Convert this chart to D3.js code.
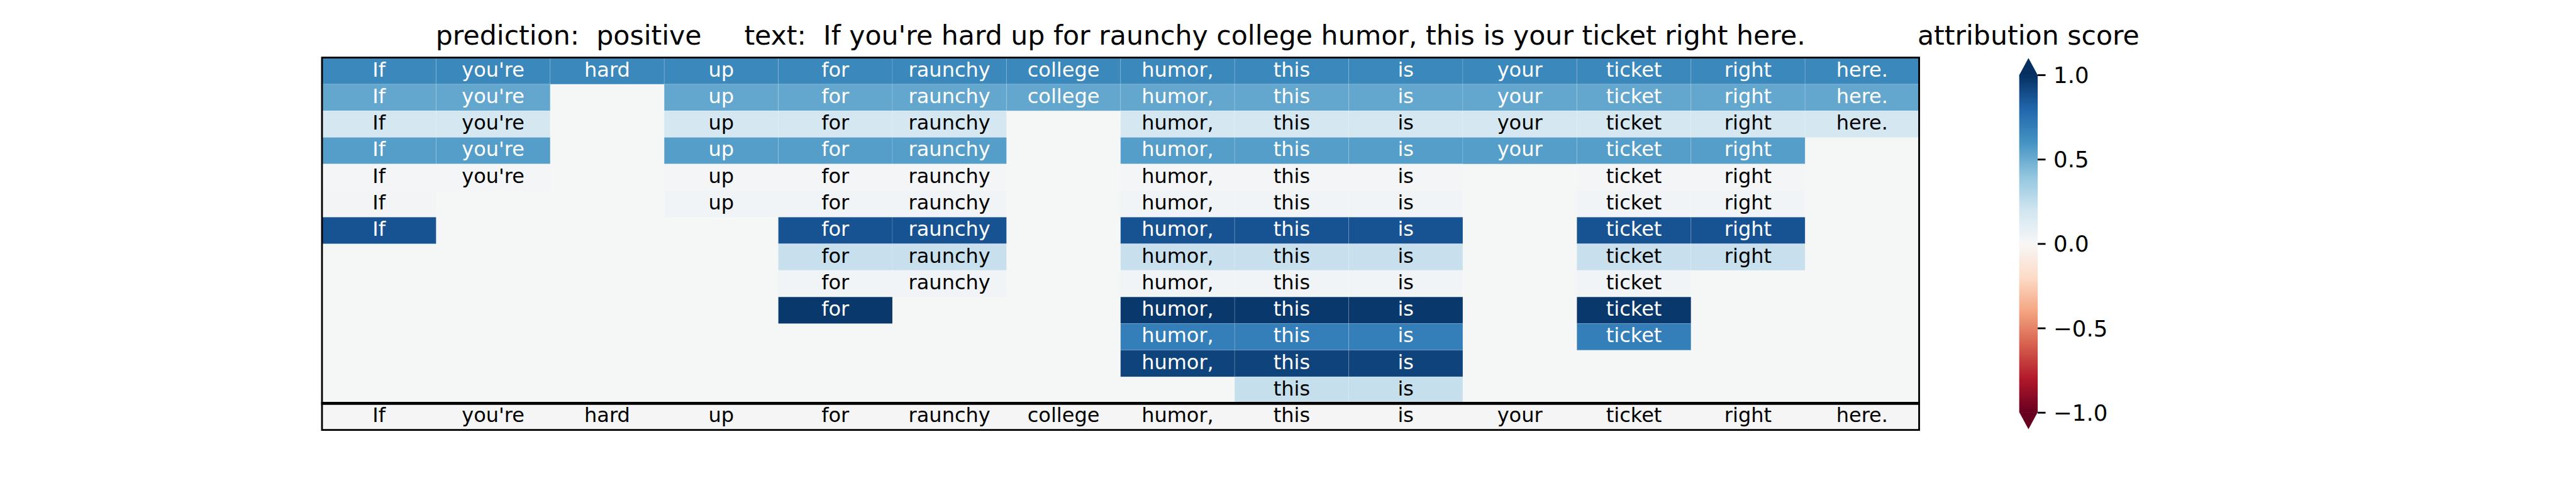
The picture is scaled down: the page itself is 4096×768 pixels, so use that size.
<!DOCTYPE html>
<html>
<head>
<meta charset="utf-8">
<script src="https://cdn.jsdelivr.net/npm/d3@7"></script>
<style>
  html, body { margin: 0; padding: 0; background: #ffffff; }
  svg { display: block; }
  text { font-family: "DejaVu Sans", sans-serif; }
</style>
</head>
<body>
<script>
// ---------------- data ----------------
const tokens = ["If", "you're", "hard", "up", "for", "raunchy", "college", "humor,", "this", "is", "your", "ticket", "right", "here."];
const N = null;
// one row per explanation level; null = token not part of that row
const scores = [
  [0.65, 0.65, 0.65, 0.65, 0.65, 0.65, 0.65, 0.65, 0.65, 0.65, 0.65, 0.65, 0.65, 0.65],
  [0.52, 0.52, N,    0.52, 0.52, 0.52, 0.52, 0.52, 0.52, 0.52, 0.52, 0.52, 0.52, 0.52],
  [0.18, 0.18, N,    0.18, 0.18, 0.18, N,    0.18, 0.18, 0.18, 0.18, 0.18, 0.18, 0.18],
  [0.555,0.555,N,    0.555,0.555,0.555,N,    0.555,0.555,0.555,0.555,0.555,0.555,N   ],
  [0.02, 0.02, N,    0.02, 0.02, 0.02, N,    0.02, 0.02, 0.02, N,    0.02, 0.02, N   ],
  [0.028,N,    N,    0.035,0.03, 0.03, N,    0.03, 0.03, 0.03, N,    0.03, 0.03, N   ],
  [0.87, N,    N,    N,    0.87, 0.87, N,    0.87, 0.87, 0.87, N,    0.87, 0.87, N   ],
  [N,    N,    N,    N,    0.23, 0.23, N,    0.23, 0.23, 0.23, N,    0.23, 0.23, N   ],
  [N,    N,    N,    N,    0.03, 0.03, N,    0.03, 0.03, 0.03, N,    0.03, N,    N   ],
  [N,    N,    N,    N,    0.97, N,    N,    0.97, 0.97, 0.97, N,    0.97, N,    N   ],
  [N,    N,    N,    N,    N,    N,    N,    0.69, 0.69, 0.69, N,    0.69, N,    N   ],
  [N,    N,    N,    N,    N,    N,    N,    0.93, 0.93, 0.93, N,    N,    N,    N   ],
  [N,    N,    N,    N,    N,    N,    N,    N,    0.235,0.235,N,    N,    N,    N   ]
];
const prediction = "positive";
const colorbarTicks = [-1.0, -0.5, 0.0, 0.5, 1.0];
const colorbarLabel = "attribution score";
const rdbuStops = ["#67001f","#b2182b","#d6604d","#f4a582","#fddbc7","#f7f7f7","#d1e5f0","#92c5de","#4393c3","#2166ac","#053061"];

// ---------------- layout (reference pixel units, scaled at the end) ----------------
const REF_W = 4800, REF_H = 900;
const OUT_W = 4096, OUT_H = 768;
const k = OUT_W / REF_W;

const plotLeft = 600, plotRight = 3576;
const plotTop = 107.3, rowH = 49.56;
const nRows = scores.length;            // 13
const heatBottom = plotTop + nRows * rowH;
const sentBottom = heatBottom + rowH;

const cellFont = 37.5, titleFont = 50, labelFont = 50, tickFont = 41.67;
const spineW = 3.33;

const svg = d3.select("body").append("svg")
  .attr("width", OUT_W).attr("height", OUT_H)
  .attr("viewBox", `0 0 ${OUT_W} ${OUT_H}`);
svg.append("rect").attr("width", OUT_W).attr("height", OUT_H).attr("fill", "#ffffff");
const g = svg.append("g").attr("transform", `scale(${k})`);

// scales
const x = d3.scaleBand().domain(d3.range(tokens.length)).range([plotLeft, plotRight]).padding(0);
const y = d3.scaleBand().domain(d3.range(nRows)).range([plotTop, heatBottom]).padding(0);
const color = d3.scaleLinear()
  .domain(rdbuStops.map((_, i) => -1 + i * 0.2))
  .range(rdbuStops)
  .interpolate(d3.interpolateRgb)
  .clamp(true);

// backgrounds
g.append("rect").attr("x", plotLeft).attr("y", plotTop)
  .attr("width", plotRight - plotLeft).attr("height", heatBottom - plotTop)
  .attr("fill", "#f5f6f6");
g.append("rect").attr("x", plotLeft).attr("y", heatBottom)
  .attr("width", plotRight - plotLeft).attr("height", sentBottom - heatBottom)
  .attr("fill", "#f5f5f5");

// cells
const cells = [];
scores.forEach((row, r) => row.forEach((v, c) => { if (v !== null) cells.push({ r, c, v }); }));

const baseOff = 0.276; // baseline offset for vertically centred DejaVu text (em)

const cg = g.append("g");
cg.selectAll("rect.cell").data(cells).join("rect")
  .attr("class", "cell")
  .attr("x", d => x(d.c)).attr("y", d => y(d.r))
  .attr("width", x.bandwidth()).attr("height", y.bandwidth())
  .attr("fill", d => color(d.v))
  .attr("stroke", "#ffffff").attr("stroke-opacity", 0.13).attr("stroke-width", 1.3);

cg.selectAll("text.cell").data(cells).join("text")
  .attr("class", "cell")
  .attr("x", d => x(d.c) + x.bandwidth() / 2)
  .attr("y", d => y(d.r) + y.bandwidth() / 2 + baseOff * cellFont)
  .attr("text-anchor", "middle")
  .attr("font-size", cellFont)
  .attr("fill", d => Math.abs(d.v) > 0.4 ? "#ffffff" : "#000000")
  .text(d => tokens[d.c]);

// sentence row
g.append("g").selectAll("text").data(tokens).join("text")
  .attr("x", (t, i) => x(i) + x.bandwidth() / 2)
  .attr("y", heatBottom + rowH / 2 + baseOff * cellFont)
  .attr("text-anchor", "middle")
  .attr("font-size", cellFont)
  .attr("fill", "#000000")
  .text(t => t);

// spines
const sp = g.append("g").attr("stroke", "#000000").attr("fill", "none");
sp.append("rect").attr("x", plotLeft).attr("y", plotTop)
  .attr("width", plotRight - plotLeft).attr("height", sentBottom - plotTop)
  .attr("stroke-width", spineW);
sp.append("line").attr("x1", plotLeft - spineW / 2).attr("x2", plotRight + spineW / 2)
  .attr("y1", heatBottom).attr("y2", heatBottom).attr("stroke-width", 5.4);

// title
const title = "prediction:  " + prediction + "     text:  " + tokens.join(" ");
g.append("text")
  .attr("x", (plotLeft + plotRight) / 2).attr("y", 83)
  .attr("text-anchor", "middle")
  .attr("font-size", titleFont)
  .attr("xml:space", "preserve")
  .style("white-space", "pre")
  .attr("fill", "#000000")
  .text(title);

// ---------------- colorbar ----------------
const cbX0 = 3762.5, cbX1 = 3797;
const cbTop = 139.5, cbBot = 768.5;
const cbExt = 0.05 * (cbBot - cbTop);
const cbY = d3.scaleLinear().domain([-1, 1]).range([cbBot, cbTop]);
const cbMid = (cbX0 + cbX1) / 2;

const defs = svg.append("defs");
const grad = defs.append("linearGradient").attr("id", "rdbu")
  .attr("x1", 0).attr("y1", 1).attr("x2", 0).attr("y2", 0);
grad.selectAll("stop").data(rdbuStops).join("stop")
  .attr("offset", (d, i) => i / (rdbuStops.length - 1))
  .attr("stop-color", d => d);

g.append("rect").attr("x", cbX0).attr("y", cbY(1))
  .attr("width", cbX1 - cbX0).attr("height", cbY(-1) - cbY(1))
  .attr("fill", "url(#rdbu)");
g.append("path")
  .attr("d", `M${cbX0},${cbY(1) + 0.5}L${cbX1},${cbY(1) + 0.5}L${cbMid},${cbY(1) - cbExt}Z`)
  .attr("fill", color(1));
g.append("path")
  .attr("d", `M${cbX0},${cbY(-1) - 0.5}L${cbX1},${cbY(-1) - 0.5}L${cbMid},${cbY(-1) + cbExt}Z`)
  .attr("fill", color(-1));

const fmt = v => (v < 0 ? "\u2212" : "") + Math.abs(v).toFixed(1);
const axis = d3.axisRight(cbY).tickValues(colorbarTicks).tickFormat(fmt)
  .tickSize(14.6).tickPadding(14.6);
const ax = g.append("g").attr("transform", `translate(${cbX1},0)`).call(axis);
ax.select(".domain").remove();
ax.selectAll(".tick line").attr("stroke", "#000000").attr("stroke-width", spineW);
ax.selectAll(".tick text")
  .attr("font-size", tickFont)
  .attr("font-family", "DejaVu Sans")
  .attr("fill", "#000000")
  .attr("dy", null)
  .attr("dominant-baseline", "central");

g.append("text")
  .attr("x", cbMid).attr("y", 83)
  .attr("text-anchor", "middle")
  .attr("font-size", labelFont)
  .attr("fill", "#000000")
  .text(colorbarLabel);
</script>
</body>
</html>
